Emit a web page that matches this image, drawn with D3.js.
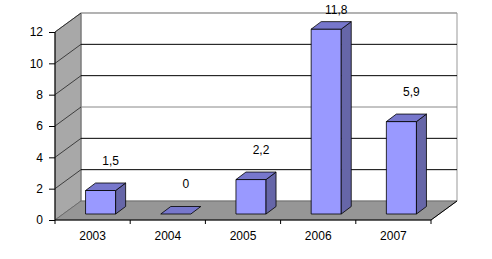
<!DOCTYPE html>
<html>
<head>
<meta charset="utf-8">
<script src="https://cdn.jsdelivr.net/npm/d3@7"></script>
<style>
  body { margin: 0; background: #fff; }
  svg { display: block; font-family: "Liberation Sans", Arial, sans-serif; }
</style>
</head>
<body>
<div id="chart"></div>
<script>
const years = ['2003', '2004', '2005', '2006', '2007'];
const values = [1.5, 0, 2.2, 11.8, 5.9];
const valueLabels = ['1,5', '0', '2,2', '11,8', '5,9'];
const yTicks = [0, 2, 4, 6, 8, 10, 12];
// gridlines on the back wall, some look grey in the original
const gridColors = ['#000', '#000', '#000', '#888', '#000', '#000', '#999'];

const width = 492, height = 259;
const depth = {dx: 26, dy: 19};      // wall / floor depth
const inset = {dx: 8, dy: 6};        // bars sit a little back from the front
const barDepth = {dx: 10, dy: 7.5};
const fontSize = '12px';

const svg = d3.select('#chart')
    .append('svg')
    .attr('width', width)
    .attr('height', height);

const x = d3.scaleBand()
    .domain(years)
    .range([55, 431])
    .padding(0);

const y = d3.scaleLinear()
    .domain([0, 12])
    .range([220, 32]);

const x0 = x.range()[0], x1 = x.range()[1];
const yBottom = y(0), yTop = y(12);

const pts = arr => arr.map(p => p.join(',')).join(' ');

// back wall
svg.append('polygon')
    .attr('points', pts([
        [x0 + depth.dx, yTop - depth.dy], [x1 + depth.dx, yTop - depth.dy],
        [x1 + depth.dx, yBottom - depth.dy], [x0 + depth.dx, yBottom - depth.dy]
    ]))
    .attr('fill', '#fff')
    .attr('stroke', '#999')
    .attr('stroke-width', 1);

// side wall
svg.append('polygon')
    .attr('points', pts([
        [x0, yBottom], [x0, yTop],
        [x0 + depth.dx, yTop - depth.dy], [x0 + depth.dx, yBottom - depth.dy]
    ]))
    .attr('fill', '#a8a8a8')
    .attr('stroke', '#555')
    .attr('stroke-width', 0.8);

// floor
svg.append('polygon')
    .attr('points', pts([
        [x0, yBottom], [x1, yBottom],
        [x1 + depth.dx, yBottom - depth.dy], [x0 + depth.dx, yBottom - depth.dy]
    ]))
    .attr('fill', '#969696')
    .attr('stroke', '#666')
    .attr('stroke-width', 0.8);

// gridlines: back wall horizontal + diagonal on the side wall
yTicks.slice(1).forEach((t, i) => {
    const yy = y(t);
    svg.append('line')
        .attr('x1', x0 + depth.dx).attr('x2', x1 + depth.dx)
        .attr('y1', yy - depth.dy).attr('y2', yy - depth.dy)
        .attr('stroke', gridColors[i + 1])
        .attr('stroke-width', 1);
    svg.append('line')
        .attr('x1', x0).attr('y1', yy)
        .attr('x2', x0 + depth.dx).attr('y2', yy - depth.dy)
        .attr('stroke', '#222')
        .attr('stroke-width', 0.8);
});

// bars
const bw = x.bandwidth() * 0.4;
const bars = svg.selectAll('g.bar')
    .data(years.map((yr, i) => ({year: yr, value: values[i], label: valueLabels[i]})))
    .enter()
    .append('g')
    .attr('class', 'bar');

bars.each(function(d) {
    const g = d3.select(this);
    const left = x(d.year) + (x.bandwidth() - bw) / 2 + inset.dx;
    const right = left + bw;
    const bottom = y(0) - inset.dy;
    const top = y(d.value) - inset.dy;
    const ddx = barDepth.dx, ddy = barDepth.dy;

    if (d.value > 0) {
        g.append('polygon')
            .attr('points', pts([[left, bottom], [right, bottom], [right, top], [left, top]]))
            .attr('fill', '#9999ff')
            .attr('stroke', '#000').attr('stroke-width', 0.8);
        g.append('polygon')
            .attr('points', pts([[right, bottom], [right + ddx, bottom - ddy], [right + ddx, top - ddy], [right, top]]))
            .attr('fill', '#6666a8')
            .attr('stroke', '#000').attr('stroke-width', 0.8);
    }
    g.append('polygon')
        .attr('points', pts([[left, top], [right, top], [right + ddx, top - ddy], [left + ddx, top - ddy]]))
        .attr('fill', '#7777cc')
        .attr('stroke', '#000').attr('stroke-width', 0.8);

    g.append('text')
        .attr('x', (left + right) / 2 + 10)
        .attr('y', Math.max(top - 26, 14))
        .attr('text-anchor', 'middle')
        .style('font-size', fontSize)
        .style('fill', '#000')
        .text(d.label);
});

// front axes
svg.append('line')
    .attr('x1', x0).attr('x2', x0)
    .attr('y1', yTop).attr('y2', yBottom)
    .attr('stroke', '#000');
svg.append('line')
    .attr('x1', x0).attr('x2', x1)
    .attr('y1', yBottom).attr('y2', yBottom)
    .attr('stroke', '#000');
svg.append('line')
    .attr('x1', x1).attr('y1', yBottom)
    .attr('x2', x1 + depth.dx).attr('y2', yBottom - depth.dy)
    .attr('stroke', '#000');

const yAxis = svg.append('g')
    .attr('transform', `translate(${x0},0)`)
    .call(d3.axisLeft(y).tickValues(yTicks).tickSize(6).tickPadding(6));
yAxis.select('.domain').remove();
yAxis.selectAll('text').style('font-size', fontSize).style('font-family', '"Liberation Sans", Arial, sans-serif');

const xAxis = svg.append('g')
    .attr('transform', `translate(0,${yBottom})`)
    .call(d3.axisBottom(x).tickSize(0).tickPadding(11));
xAxis.select('.domain').remove();
xAxis.selectAll('text').style('font-size', fontSize).style('font-family', '"Liberation Sans", Arial, sans-serif');

// category separator ticks below the floor
svg.selectAll('line.xtick')
    .data(years.concat(['end']))
    .enter()
    .append('line')
    .attr('class', 'xtick')
    .attr('x1', (d, i) => i < years.length ? x(d) : x1)
    .attr('x2', (d, i) => i < years.length ? x(d) : x1)
    .attr('y1', yBottom)
    .attr('y2', yBottom + 4)
    .attr('stroke', '#000');
</script>
</body>
</html>
